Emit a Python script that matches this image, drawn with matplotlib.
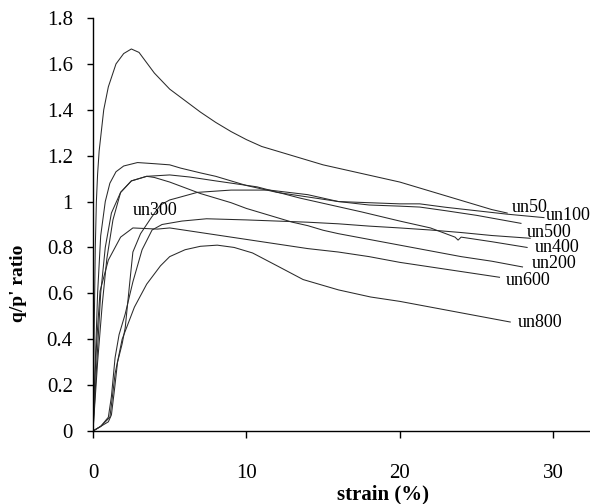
import matplotlib
matplotlib.use("Agg")
import matplotlib.pyplot as plt
from matplotlib.ticker import FormatStrFormatter

plt.rcParams['font.family'] = ['Liberation Serif', 'DejaVu Serif']

# strain (%) / q/p' ratio readings for each undrained test
un50_x = [0, 0.08, 0.15, 0.22, 0.3, 0.4, 0.5, 0.7, 1.0, 1.5, 2.0, 2.5, 3.0, 4, 5, 6, 7, 8, 9, 10,
          11, 12, 13, 14, 15, 16, 17, 18, 19, 20, 21, 22, 23, 24, 25, 26, 27]
un50_y = [0, 0.45, 0.8, 1.0, 1.12, 1.22, 1.28, 1.4, 1.5, 1.6, 1.645, 1.665, 1.65, 1.56, 1.49, 1.44,
          1.39, 1.345, 1.305, 1.27, 1.24, 1.22, 1.2, 1.18, 1.16, 1.145, 1.13, 1.115, 1.1, 1.085,
          1.065, 1.045, 1.025, 1.005, 0.985, 0.965, 0.95]

un100_x = [0, 0.15, 0.3, 0.5, 0.8, 1.1, 1.5, 2.0, 2.9, 4, 5, 5.7, 7, 8, 10, 11, 12, 14, 16, 18,
           20, 21.3, 23, 25, 27, 29.4]
un100_y = [0, 0.3, 0.6, 0.85, 1.0, 1.08, 1.13, 1.155, 1.17, 1.165, 1.16, 1.146, 1.125, 1.11, 1.07,
           1.055, 1.04, 1.02, 1.0, 0.995, 0.99, 0.99, 0.975, 0.96, 0.945, 0.93]

un200_x = [0, 0.25, 0.5, 0.8, 1.2, 1.8, 2.5, 3.5, 4, 5, 6, 7, 8, 9, 10, 11, 12, 13, 14, 15, 16,
           18, 20, 22, 24, 26, 28]
un200_y = [0, 0.3, 0.6, 0.8, 0.95, 1.04, 1.09, 1.11, 1.105, 1.085, 1.06, 1.035, 1.015, 0.995,
           0.97, 0.95, 0.93, 0.91, 0.895, 0.875, 0.86, 0.835, 0.81, 0.785, 0.76, 0.74, 0.715]

un300_x = [0, 0.5, 1.0, 1.2, 1.4, 1.6, 1.9, 2.1, 2.4, 2.6, 3.1, 3.8, 4.4, 5.0, 5.5, 6.8, 9,
           11.5, 14, 16, 18, 20, 21.3, 23, 25, 27.9]
un300_y = [0, 0.02, 0.04, 0.07, 0.18, 0.3, 0.38, 0.45, 0.65, 0.78, 0.86, 0.93, 0.985, 1.007,
           1.016, 1.04, 1.05, 1.05, 1.03, 1.0, 0.985, 0.98, 0.976, 0.96, 0.94, 0.905]

un400_x = [0, 0.3, 0.6, 0.9, 1.3, 1.8, 2.5, 3.5, 5, 6.3, 8, 10.7, 13.5, 15.5, 17.5, 20, 22,
           23.6, 23.8, 24.0, 26, 28.3]
un400_y = [0, 0.3, 0.55, 0.75, 0.92, 1.04, 1.09, 1.11, 1.116, 1.107, 1.09, 1.064, 1.015, 0.985,
           0.955, 0.915, 0.885, 0.845, 0.832, 0.845, 0.825, 0.80]

un500_x = [0, 0.5, 1.0, 1.2, 1.44, 1.7, 2.1, 2.6, 3.2, 3.85, 4.5, 5.8, 7.4, 10, 12, 14, 16, 18,
           20, 22, 24, 26, 28.5]
un500_y = [0, 0.02, 0.06, 0.15, 0.32, 0.42, 0.51, 0.65, 0.79, 0.876, 0.9, 0.915, 0.925, 0.92,
           0.915, 0.91, 0.903, 0.893, 0.885, 0.876, 0.865, 0.852, 0.84]

un600_x = [0, 0.1, 0.25, 0.46, 1.0, 1.8, 2.6, 4.2, 5, 6, 8, 10, 12, 14, 16, 18, 20, 22, 24, 26.5]
un600_y = [0, 0.2, 0.4, 0.61, 0.745, 0.845, 0.885, 0.88, 0.885, 0.875, 0.855, 0.835, 0.815,
           0.795, 0.78, 0.76, 0.735, 0.715, 0.695, 0.67]

un800_x = [0, 0.5, 1.1, 1.24, 1.44, 1.9, 2.7, 3.5, 4.4, 5.0, 6.0, 7.0, 8.1, 9.2, 10.4, 12, 13.7,
           16, 18.1, 20, 22, 24, 26, 27.2]
un800_y = [0, 0.02, 0.06, 0.135, 0.25, 0.40, 0.54, 0.64, 0.72, 0.76, 0.79, 0.805, 0.81, 0.8,
           0.776, 0.72, 0.66, 0.615, 0.584, 0.565, 0.54, 0.515, 0.49, 0.475]

series = [
    ("un50", un50_x, un50_y),
    ("un100", un100_x, un100_y),
    ("un200", un200_x, un200_y),
    ("un300", un300_x, un300_y),
    ("un400", un400_x, un400_y),
    ("un500", un500_x, un500_y),
    ("un600", un600_x, un600_y),
    ("un800", un800_x, un800_y),
]

# label anchor (strain, ratio) for each curve name
label_pos = {
    "un50": (27.3, 0.955),
    "un100": (29.5, 0.92),
    "un500": (28.3, 0.845),
    "un400": (28.8, 0.778),
    "un200": (28.6, 0.711),
    "un600": (26.9, 0.636),
    "un800": (27.7, 0.453),
    "un300": (2.6, 0.942),
}

x_ticks = [0, 10, 20, 30]
y_ticks = [0, 0.2, 0.4, 0.6, 0.8, 1.0, 1.2, 1.4, 1.6, 1.8]

W, H = 590, 504
fig = plt.figure(figsize=(W / 100, H / 100), dpi=100)
ax = fig.add_axes([93 / W, 1 - 431 / H, 1 - 93 / W, (431 - 18) / H])

for name, xs, ys in series:
    ax.plot(xs, ys, color="#2a2a2a", lw=0.75)
    lx, ly = label_pos[name]
    ax.text(lx, ly, name, fontsize=13, ha="left", va="baseline", color="black")

ax.set_xlim(0, 32.4)
ax.set_ylim(0, 1.8)
ax.set_xticks(x_ticks)
ax.set_yticks(y_ticks)
ax.yaxis.set_major_formatter(FormatStrFormatter('%g'))
ax.xaxis.set_major_formatter(FormatStrFormatter('%g'))

for side in ("top", "right"):
    ax.spines[side].set_visible(False)
for side in ("left", "bottom"):
    ax.spines[side].set_linewidth(1.0)
    ax.spines[side].set_color("black")

ax.tick_params(axis="y", direction="out", length=4.5, width=1.0, pad=10, labelsize=15)
ax.tick_params(axis="x", direction="out", length=5, width=1.0, pad=19, labelsize=15)

ax.set_xlabel("strain (%)", fontsize=15, fontweight="bold")
ax.xaxis.set_label_coords((383 - 93) / (W - 93), (431 - 484) / (431 - 18))
ax.set_ylabel("q/p' ratio", fontsize=14, fontweight="bold")
ax.yaxis.set_label_coords((27 - 93) / (W - 93), (431 - 283) / (431 - 18))

fig.savefig("out.png", dpi=100)
